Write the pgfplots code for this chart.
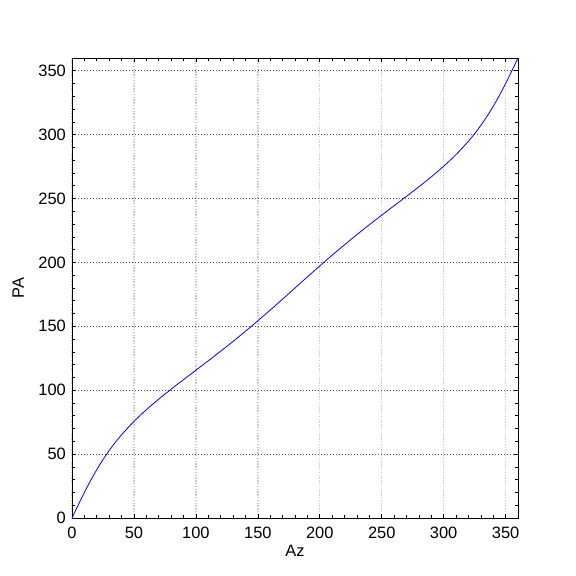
\documentclass[border=0pt]{standalone}
\usepackage{pgfplots}
\pgfplotsset{compat=1.18}
\usepackage{fontspec}
\setmainfont{Liberation Sans}
\begin{document}
\begin{tikzpicture}
\begin{axis}[
  scale only axis,
  width=446bp, height=460bp,
  xmin=0, xmax=360, ymin=0, ymax=360,
  xtick={0,50,...,350}, ytick={0,50,...,350},
  minor x tick num=4, minor y tick num=4,
  tick align=inside,
  xtick pos=both, ytick pos=both,
  major tick length=4bp, minor tick length=3bp,
  every tick/.style={black, line width=0.6pt},
  axis line style={black, line width=0.9pt},
  grid=major,
  x grid style={gray!40, line width=1.4bp, dash pattern=on 1.4bp off 1.4bp},
  y grid style={black!70, line width=0.7bp, dash pattern=on 0.8bp off 2.2bp},
  /pgf/number format/assume math mode=true,
  tick label style={font=\fontsize{16.5}{19}\selectfont},
  xticklabel style={inner sep=0pt, yshift=-9bp},
  yticklabel style={inner sep=0pt, xshift=-6bp},
  label style={font=\fontsize{16.5}{19}\selectfont},
  xlabel={Az}, ylabel={PA},
  xlabel style={at={(axis description cs:0.5,0)}, anchor=north, inner sep=0pt, yshift=-27bp},
  ylabel style={at={(axis description cs:-0.1076,0.5)}, anchor=south, inner sep=0pt},
]
\addplot[blue, line width=0.8pt, smooth, no markers] table {
x y
0 0
5 10.15
10 19.98
15 29.26
20 37.82
25 45.65
30 52.75
35 59.21
40 65.11
50 75.57
60 84.72
70 93.02
80 100.79
90 108.26
100 115.63
110 123.01
120 130.51
130 138.21
140 146.15
150 154.32
160 162.74
170 171.32
180 180
190 188.68
200 197.26
210 205.68
220 213.85
230 221.79
240 229.49
250 236.99
260 244.37
270 251.74
280 259.21
290 266.98
300 275.28
310 284.43
320 294.89
325 300.79
330 307.25
335 314.35
340 322.18
345 330.74
350 340.02
355 349.85
360 360
};
\end{axis}
\pgfresetboundingbox
\useasboundingbox (current axis.south west) ++(-72bp,-58bp) rectangle ++(576bp,576bp);
\end{tikzpicture}
\end{document}
